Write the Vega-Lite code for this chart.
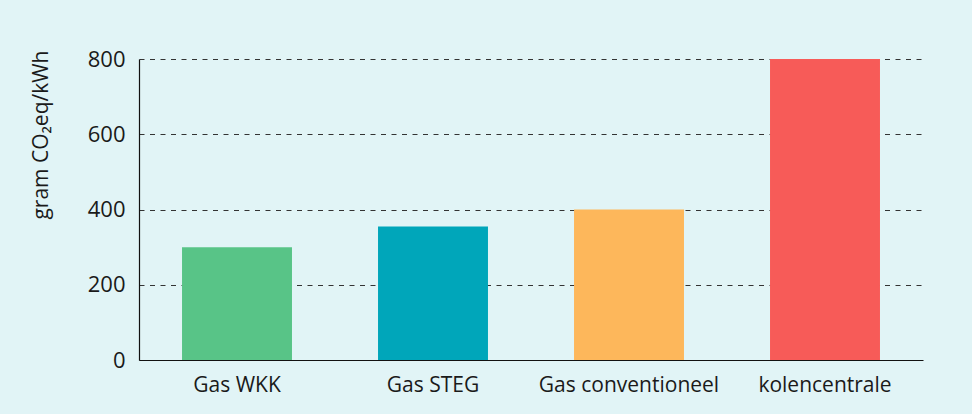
{
  "$schema": "https://vega.github.io/schema/vega-lite/v6.json",
  "autosize": {"type": "none"},
  "width": 784,
  "height": 301,
  "padding": {"left": 139, "top": 59, "right": 49, "bottom": 54},
  "background": "#e1f4f6",
  "config": {
    "view": {"stroke": null},
    "font": "Open Sans",
    "axis": {
      "labelFont": "Open Sans",
      "titleFont": "Open Sans",
      "labelColor": "#1a1a1a",
      "titleColor": "#1a1a1a",
      "domainColor": "#111111",
      "domainWidth": 1.2
    }
  },
  "data": {
    "values": [
      {"bron": "Gas WKK", "uitstoot": 300, "kleur": "#58c487"},
      {"bron": "Gas STEG", "uitstoot": 355, "kleur": "#00a6ba"},
      {"bron": "Gas conventioneel", "uitstoot": 400, "kleur": "#fdb75b"},
      {"bron": "kolencentrale", "uitstoot": 800, "kleur": "#f75b58"}
    ]
  },
  "mark": {"type": "bar"},
  "encoding": {
    "x": {
      "field": "bron",
      "type": "nominal",
      "sort": null,
      "scale": {"paddingInner": 0.439, "paddingOuter": 0.2195},
      "axis": {
        "title": null,
        "labelAngle": 0,
        "labelFontSize": 21,
        "labelLimit": 0,
        "ticks": false,
        "labelPadding": 14,
        "grid": false
      }
    },
    "y": {
      "field": "uitstoot",
      "type": "quantitative",
      "scale": {"domain": [0, 800], "nice": false},
      "axis": {
        "title": "gram CO₂eq/kWh",
        "titleFontSize": 21,
        "titleFontWeight": "normal",
        "titleAnchor": "end",
        "titleY": -9,
        "titlePadding": 36,
        "values": [0, 200, 400, 600, 800],
        "labelFontSize": 22,
        "ticks": false,
        "labelPadding": 14,
        "grid": true,
        "gridColor": "#333333",
        "gridWidth": 1,
        "gridDash": [5, 5.5]
      }
    },
    "color": {"field": "kleur", "type": "nominal", "scale": null, "legend": null}
  }
}
